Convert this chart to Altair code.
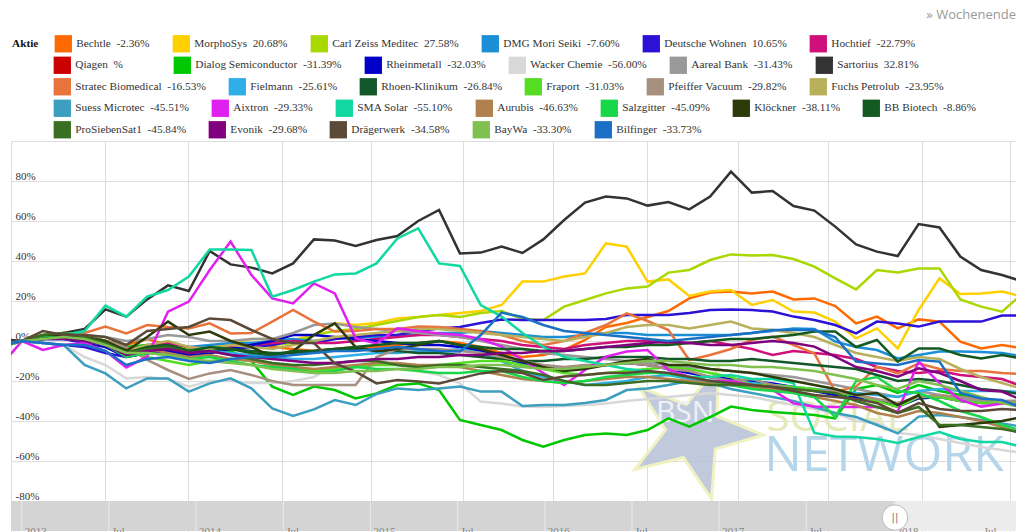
import altair as alt
import pandas as pd

# ---------------- legend / series definitions ----------------
names = ["Bechtle", "MorphoSys", "Carl Zeiss Meditec", "DMG Mori Seiki", "Deutsche Wohnen", "Hochtief",
         "Qiagen", "Dialog Semiconductor", "Rheinmetall", "Wacker Chemie", "Aareal Bank", "Sartorius",
         "Stratec Biomedical", "Fielmann", "Rhoen-Klinikum", "Fraport", "Pfeiffer Vacuum", "Fuchs Petrolub",
         "Suess Microtec", "Aixtron", "SMA Solar", "Aurubis", "Salzgitter", "Klöckner", "BB Biotech",
         "ProSiebenSat1", "Evonik", "Drägerwerk", "BayWa", "Bilfinger"]
changes = ["-2.36%", "20.68%", "27.58%", "-7.60%", "10.65%", "-22.79%",
           "%" + "\u00a0" * 10 + "\u200b", "-31.39%", "-32.03%", "-56.00%", "-31.43%", "32.81%",
           "-16.53%", "-25.61%", "-26.84%", "-31.03%", "-29.82%", "-23.95%",
           "-45.51%", "-29.33%", "-55.10%", "-46.63%", "-45.09%", "-38.11%", "-8.86%",
           "-45.84%", "-29.68%", "-34.58%", "-33.30%", "-33.73%"]
colors = ["#ff6a00", "#ffd000", "#a8d800", "#1a8fd6", "#2c12d6", "#d0107a",
          "#cc0000", "#00c800", "#0000c8", "#d8d8d8", "#999999", "#333333",
          "#e8743c", "#30aee8", "#13582a", "#55dd22", "#a89080", "#b8b05a",
          "#3d9fc0", "#e020f0", "#10d8a0", "#b0804e", "#18d84a", "#2d3a0a", "#125a20",
          "#3a6e22", "#800080", "#5c4a38", "#80c050", "#1a70c4"]
legend_rows = [(0, 6), (6, 12), (12, 18), (18, 25), (25, 30)]

# period index of each observation (-1 lies just left of the visible range)
periods = list(range(-1, 49))

# ---------------- series values in % ----------------
bechtle = [-3, 0, 1, 3, 2, 0, -2, 1, -2, -3, -4, -2, -1, -3, -4, -5, -4, -3, -3, -2, -1, 0, -1, -3, -6, -8, -7, -4.5, 0.5, 7, 9, 12, 15, 21.3, 24.2, 24.7, 23.8, 24.7, 20.8, 21.3, 17.5, 8.8, 12.2, 6.3, 10.8, 9.7, -0.3, -3.7, -2, -3.7]
morphosys = [-2, 0, 1, 2, 1, 0, -3, -3, -4, -5, -3, -1, 1, 1, 0.5, 3, 8.8, 8, 9, 11.3, 12, 13, 14, 15, 18, 29.7, 29.7, 32.2, 33.8, 48.8, 47.2, 29.7, 30.8, 22.5, 24.7, 25.5, 18, 20.5, 14.7, 14.2, 9.7, 1.3, 6.3, -3.7, 15.5, 31.3, 23.5, 23.8, 24.7, 22.2]
carl_zeiss = [-2, 0, 2, 3, 2, -1, -6, -3, -2, -4, -5, -3, -3, -2, -1, 3, 5, 6, 8, 10, 12, 13, 12, 14, 15, 11, 10.5, 17.2, 20.5, 23.8, 26.3, 27.2, 34.2, 35.5, 40.5, 43.3, 42.7, 43, 41, 37.2, 31.3, 25.8, 35.5, 34.3, 36.3, 36.3, 20.8, 17.2, 14.7, 23.8]
dmg_mori = [-2, 0, 1, 2, 1, -1, -4, -2, -1, -3, -2, -1, -1, 0, 1, 0, 1, 2, 2, 3, 3, 4, 4, 5, 4, 3, 2, 2, 3, 4, 4, 3, 3, 3, 3, 3, 4, 5, 6.3, 6, -0.3, -3, -4.5, -8.7, -7, -5.3, -5.3, -5.5, -6, -7.6]
deutsche_wohnen = [-3, 0, -1, -2, -3, -6, -8, -6, -5, -6, -6, -4, -3, -2, 0, -1, 1, 2, 3, 3, 5, 6.3, 7, 9, 10.8, 10.5, 10.5, 10.5, 10.5, 11, 13, 13, 13, 14, 15.5, 15.8, 15.5, 14.7, 12.2, 10.5, 8, 3.8, 9.7, 8.8, 7.2, 9.7, 9.7, 9.7, 12.7, 12.7]
hochtief = [-2, 0, 1, 2, 1, -2, -5, -3, -1, -3, -4, -3, -2, -1, 0, -1, -1, 0, 1, 2, 3, 3, 2, 1, 0, -2, -3, -4, -2, -1, 0, 0, -1, -1, 0, -2, -4, -7, -5, -6, -7, -9, -13, -15, -16, -15, -17, -18, -19, -22.8]
qiagen = []
dialog = [-2, 0, 2, 3, 3, 0, -3, -2, -3, -5, -4, -5, -10, -22.8, -27, -22.8, -24.5, -28.7, -26.2, -22, -21.2, -24.5, -39.5, -42, -44.5, -49.5, -52.8, -49.5, -47, -46.2, -47, -44.5, -38.7, -42.8, -38, -32.8, -34.5, -35.5, -36.2, -37, -38.7, -24, -22, -26, -22, -25, -27, -29, -30, -31.4]
rheinmetall = [-2, 0, 1, 1, -1, -3, -8, -6, -5, -7, -6, -4, -2, 0, 3, 3, 2, 1, 0, -1, -2, -2, -3, -5, -8, -11, -13.7, -14, -13, -12, -11, -12, -14, -16, -18, -19, -20, -21.2, -23, -25, -27, -28, -29.5, -32.8, -28.7, -28, -30, -31, -31, -32]
wacker = [-3, 0, -1, -2, -8, -12, -18.7, -18, -19, -22.8, -20, -20, -21, -21, -20, -18, -12, -10, -9, -12, -15, -17, -21.2, -30.3, -31.2, -32.8, -33, -32.5, -32, -31.2, -30, -29, -28, -27, -26, -27, -28, -30, -32, -34, -36, -40, -41, -46, -47, -49, -51, -53, -54.5, -56]
aareal = [-1, 0, 2, 4, 3, 2, 0, 1, 3, 2, 0, 0, 1, 1, 4, 8, 8.8, 7, 6, 5, 4, 3, 2, 0, -2, -4, -6, -7, -8, -9, -10, -11, -12, -13, -14, -15, -16, -17, -18, -20, -22, -24, -26, -28, -25, -27, -29, -30, -31, -31.4]
sartorius = [1, 0, 2, 4, 6, 15.8, 12.2, 20.8, 27.8, 25, 45, 38.3, 36.7, 33.8, 38.8, 50.8, 50.2, 47.5, 50.5, 52.5, 60, 65.5, 43.8, 44.2, 47.2, 44, 50.8, 60.5, 69.2, 72.2, 71.3, 67.7, 69.5, 65.8, 72.2, 84.7, 74.2, 75, 67.5, 65.2, 57.2, 48.3, 44.7, 42.5, 58.5, 56.8, 42.2, 35.5, 33, 29.7]
stratec = [-2, 0, 2, 3, 4, 7.2, 3.8, 8, 7, 6.3, 8.8, 3.8, 4, 9.7, 15.5, 9.7, 4.7, 5, 6, 6, 7.2, 7, 6, 5, 3, 0, -2, 0, 4, 8, 13.8, 10, 5.5, -9.5, -7, -4, 0.5, 2.2, -2, -6.2, -25.3, -22.8, -12.8, -16.2, -11.2, -14, -15, -15, -16, -16.5]
fielmann = [-2, 0, 1, 1, 0, -2, -6, -4, -3, -6, -5, -6, -7, -8, -9, -9, -8, -7, -6, -6, -5, -5, -4, -6, -10, -15, -18, -20, -22, -21, -20, -18, -17, -19, -20, -20, -21, -22, -23, -24, -25, -26, -27, -28, -25, -24, -25, -25, -25, -25.6]
rhoen = [-2, 0, 2, 3, 2, 0, -4, -3, -2, -5, -4, -4, -5, -6, -6, -5, -4, -4, -5, -5, -6, -6, -7, -8, -9, -10, -10, -9, -9, -8, -8, -8, -9, -9, -10, -10, -9, -10, -11, -12, -13, -14, -17, -20, -19, -20, -22, -24, -25, -26.8]
fraport = [-3, 0, 3, 4, 3, 0, -5, -8, -10, -12, -10, -9, -10, -11, -13, -15, -14, -13, -12, -12, -13, -12, -11, -10, -10, -12, -14, -16, -17, -16, -15, -14, -13, -14, -16, -18, -22, -22, -23, -24, -26, -27, -30, -33, -28, -28, -30, -31, -31, -31]
pfeiffer = [-2, 0, 2, 4, 3, 0, -3, -9.5, -14.5, -19, -16.2, -14.5, -17, -20, -22, -22, -22, -22, -8, -4, -4, -4, -5, -6, -8, -10, -12, -13, -12, -12, -11, -12, -14, -15, -18, -20, -19, -22, -24, -25, -25, -27, -29, -31, -28, -27, -28, -29, -30, -29.8]
fuchs = [-3, 0, 2, 3, 2, -1, -5, -2, 0, -3, -4, -2, -3, -4, -2, 0, 2, 3, 4, 5, 6, 6, 5, 4, 3, 2, 1, 0, 2, 4, 7, 8, 8, 6.3, 8, 9.7, 6.3, 5.5, 4, 2, -2, -6, -8, -10, -8, -9, -14, -18, -21, -24]
suess = [-2, 0, -1, -2, -12, -16.2, -23.7, -18.7, -18.7, -25.3, -21.2, -18.7, -23.7, -33.7, -37.5, -34.2, -29.5, -32, -26.5, -23.7, -24.5, -23.7, -22.8, -25.3, -25.3, -32.5, -32, -32, -31, -29.5, -24.5, -23.7, -22, -20, -21, -24, -26, -28, -30, -33, -36, -38, -42, -46.2, -37.8, -37, -38, -39.5, -41.2, -43]
aixtron = [-12, 0, -4.5, -2, -1, -5, -13.2, -7.8, 14.7, 19.7, 35.5, 49.7, 33, 21.3, 18.8, 28.8, 23.8, 1.3, -1.2, 6.3, 5, 3.8, 3, 1, -2.8, -9.5, -16, -22, -14.5, -7.8, -5.3, -4.5, -14.5, -17.8, -20, -20, -22, -24.5, -31.2, -32.8, -33, -33, -33, -35.3, -10.3, -21.2, -29.5, -32.8, -31.2, -32]
sma_solar = [-2, 0, 1, 3, 5, 17.7, 12.2, 22.2, 25.5, 32.2, 45.8, 45.8, 45.5, 22.2, 25.5, 29.7, 33.3, 33.8, 38.8, 51.3, 56.3, 38.8, 37.5, 18, 12.2, 4, -3, -8, -10, -12, -14, -15, -17, -18, -18, -17, -19, -19, -21, -46, -47.8, -48, -49, -51, -48, -45.5, -49, -50.5, -50.5, -53]
aurubis = [-2, 0, 2, 3, 2, -1, -5, -4, -6, -8, -7, -9, -10, -12, -13, -14, -13, -12, -11, -11, -12, -12, -13, -15, -17, -19, -20, -21, -20, -19, -18, -18, -19, -20, -21, -22, -23, -24, -26, -28, -30, -32, -36, -38, -35, -36, -38, -40, -43, -46.6]
salzgitter = [-3, 0, 2, 2, 1, -2, -8, -6, -7, -9, -8, -10, -12, -13, -14, -16, -15, -13, -14, -14, -15, -16, -16, -15, -15, -18, -20, -21, -20, -18, -17, -16, -16, -18, -20, -22, -24, -25, -26, -28, -38, -20, -18, -25, -26, -30, -35, -38, -42, -45]
kloeckner = [-2, 0, 3, 3, 2, 0, -5, 2, 9.7, 3, 4.7, 0, -3, -8, -5, 3, 8.8, -3, -5, -4, -2, 0, -2, -4, -7, -10, -13, -15, -14, -12, -10, -9, -12, -12, -14, -15, -16, -18, -20, -22, -24, -27, -26, -32, -27, -43, -42, -41, -40, -38]
bb_biotech = [-2, 0, 1, 2, 1, -1, -6, -3, -2, -5, -3, -4, -6, -7, -5, -5, -4, -3, -2, -1, -1, 0, -2, -3, -4, -4, -5, -5, -4, -3, -3, -2, -2, -1, 0, 1, 1, 2, 3, 4.7, 4.7, -3, 0.5, -10.3, -3.7, -3.7, -7, -8.7, -7, -8.9]
prosieben = [-2, 0, 3, 4, 2, -1, -6, -4, -3, -6, -5, -7, -9, -11, -12, -12, -11, -10, -10, -12, -13, -12, -12, -13, -14, -15, -17, -20, -22, -22, -21, -20, -20, -21, -22, -22, -22, -23, -24, -25, -26, -30, -33, -36, -33, -42, -42, -43, -44, -45.8]
evonik = [-2, 0, 1, 1, 0, -2, -7, -5, -4, -6, -5, -7, -8, -9, -10, -11, -11, -10, -9, -9, -8, -8, -7, -7, -6, -6, -5, -5, -4, -3, -2, -1, -0.3, -1, -2, -2, -1, 0, -1, -2.8, -7.8, -13, -15, -17.8, -13.7, -16, -20, -24.5, -25.3, -29.7]
draeger = [-1, 0, 5, 3, 3, 2, -2, 5, 6, 7, 11.3, 10.5, 5.5, 1, -1, -1, -11.2, -15.3, -21.2, -19.5, -20.3, -21.2, -18.7, -16.2, -15, -16, -19.5, -17.8, -17, -16, -16, -15, -16, -18, -20, -21, -22, -23, -25, -27, -28, -29, -31, -36, -31, -34, -35, -35, -34, -34.6]
baywa = [-2, 0, 1, 2, 1, -2, -6, -6, -7, -9, -10, -11, -12, -14, -15, -16, -16, -15, -15, -14, -14, -13, -13, -12, -12, -13, -14, -14, -13, -12, -11, -10, -10, -11, -12, -12, -13, -13, -14, -15, -17, -19, -22, -24, -20, -22, -25, -28, -31, -33.3]
bilfinger = [-2, 0, -1, -2, -2, -5, -12, -9, -8, -10, -11, -9, -8, -8, -7, -6, -5, -5, -4, -3, -4, -5, -5.3, 3, 14.2, 12, 8, 5, 4, 3, 2, 1, 0, 1, 2, 3, 4, 5.5, 5.5, 5.5, 2, -10.3, -11.2, -12, -9.5, -10.3, -26, -28.7, -29.5, -33.7]

series_values = [bechtle, morphosys, carl_zeiss, dmg_mori, deutsche_wohnen, hochtief,
                 qiagen, dialog, rheinmetall, wacker, aareal, sartorius,
                 stratec, fielmann, rhoen, fraport, pfeiffer, fuchs,
                 suess, aixtron, sma_solar, aurubis, salzgitter, kloeckner, bb_biotech,
                 prosieben, evonik, draeger, baywa, bilfinger]

labels = [f"{n}\u00a0 {c}" for n, c in zip(names, changes)]

rows = []
for lab, vals in zip(labels, series_values):
    for k, v in zip(periods, vals):
        rows.append({"label": lab, "k": k, "v": v})
df = pd.DataFrame(rows)

# x grid positions (period units) and navigator ticks (months since Jan 2013)
grid_k = [-0.53, 3.98, 7.96, 12.47, 16.74, 21.15, 25.47, 29.98, 34.34, 38.66, 43.17, 47.39]
y_ticks = [-80, -60, -40, -20, 0, 20, 40, 60, 80, 100]
nav_months = [0, 6, 12, 18, 24, 30, 36, 42, 48, 54, 60, 66]
nav_labels = ["2013", "Jul", "2014", "Jul", "2015", "Jul", "2016", "Jul", "2017", "Jul", "2018", "Jul"]
nav_selected_end = 60.1

K_DOM = [-0.53, 47.67]
M_DOM = [-0.74, 68.43]
Y_DOM = [-95, 100]
SERIF = "Liberation Serif"

Y_AXIS = alt.Axis(values=y_ticks, grid=True, ticks=False, domain=False, title=None,
                  gridColor="#dddddd", gridWidth=1,
                  labelExpr="datum.value == 100 ? '' : datum.value + '%'",
                  labelAlign="left", labelPadding=-4, labelBaseline="alphabetic",
                  labelOffset=-2, labelFont=SERIF, labelFontSize=11, labelColor="#333333",
                  labelFlush=False, labelOverlap=False)

xk = lambda axis=None: alt.X("k:Q", scale=alt.Scale(domain=K_DOM, nice=False, zero=False), axis=axis)
xm = alt.X("m:Q", scale=alt.Scale(domain=M_DOM, nice=False, zero=False), axis=None)
yv = lambda f="v": alt.Y(f"{f}:Q", scale=alt.Scale(domain=Y_DOM, nice=False, zero=False), axis=Y_AXIS)

# ---------------- watermark ----------------
star_path = ("M0,1L-0.235,0.324L-0.951,0.309L-0.38,-0.124L-0.588,-0.809L0,-0.4L0.588,-0.809"
             "L0.38,-0.124L0.951,0.309L0.235,0.324Z")
wm_star = alt.Chart(pd.DataFrame({"k": [32.2], "v": [-45.2]})).mark_point(
    shape=star_path, filled=True, fill="#b7c1d6", stroke="#eef0b8", strokeWidth=3,
    size=19600, opacity=0.85, angle=345
).encode(x=xk(), y=yv())

wm_text = pd.DataFrame({
    "k": [35.7, 35.6, 30.4],
    "v": [-45.0, -65.2, -40.6],
    "t": ["SOCIAL", "NETWORK", "BSN"],
})
wm_social = alt.Chart(wm_text.iloc[[0]]).mark_text(
    align="left", baseline="alphabetic", font="Open Sans", fontSize=42, color="#e5eab8"
).encode(x=xk(), y=yv(), text="t:N")
wm_network = alt.Chart(wm_text.iloc[[1]]).mark_text(
    align="left", baseline="alphabetic", font="Open Sans", fontSize=50, color="#b5d5eb"
).encode(x=xk(), y=yv(), text="t:N")
wm_bsn = alt.Chart(wm_text.iloc[[2]]).mark_text(
    align="left", baseline="alphabetic", font="Open Sans", fontSize=30, color="#eef2f7"
).encode(x=xk(), y=yv(), text="t:N")

# ---------------- legend carriers: one legend per legend row (flowing entries) ----------------
ROW_TOP0 = -106.4      # top of first legend row, relative to the plot's top edge
ROW_STEP = 21.5
legend_layers = []
for r, (a, b) in enumerate(legend_rows):
    sub = pd.DataFrame({"label": labels[a:b], "k": [-1] * (b - a), "v": [0] * (b - a)})
    first = r == 0
    leg = alt.Legend(
        title="Aktie" if first else None, orient="none", direction="horizontal",
        legendX=1 if first else 42.3, legendY=ROW_TOP0 + r * ROW_STEP,
        symbolType="square", symbolSize=300, symbolStrokeWidth=0, symbolOpacity=1,
        labelFont=SERIF, labelFontSize=11.3, labelColor="#333333", labelOffset=4,
        labelLimit=400, columnPadding=22, padding=0,
        titleOrient="left", titleFont=SERIF, titleFontSize=11.3, titleFontWeight="bold",
        titleColor="#111111", titlePadding=15.3, titleAnchor="start",
        titleBaseline="line-top", titleLineHeight=17.3)
    legend_layers.append(
        alt.Chart(sub).mark_square(size=1, filled=True, clip=True, opacity=1).encode(
            x=xk(), y=yv(),
            color=alt.Color("label:N", scale=alt.Scale(domain=labels[a:b], range=colors[a:b]),
                            legend=leg)))

# ---------------- lines ----------------
lines = alt.Chart(df).mark_line(strokeWidth=2.5, clip=True).encode(
    x=xk(alt.Axis(values=grid_k, grid=True, labels=False, ticks=False, domain=False,
                  title=None, gridColor="#dddddd", gridWidth=1)),
    y=yv(),
    color=alt.Color("label:N", scale=alt.Scale(domain=labels, range=colors), legend=None),
)

# ---------------- navigator ----------------
nav_band = pd.DataFrame({"m": [M_DOM[0]], "m2": [nav_selected_end], "v": [-80], "v2": [-95]})
nav_rest = pd.DataFrame({"m": [nav_selected_end], "m2": [M_DOM[1]], "v": [-80], "v2": [-95]})
nav_dark = alt.Chart(nav_band).mark_rect(color="#d4d4d4").encode(
    x=xm, x2="m2:Q", y=yv(), y2="v2:Q")
nav_light = alt.Chart(nav_rest).mark_rect(color="#ececec").encode(
    x=xm, x2="m2:Q", y=yv(), y2="v2:Q")
nav_tick_df = pd.DataFrame({"m": nav_months, "v": [-80] * len(nav_months), "v2": [-95] * len(nav_months),
                            "t": nav_labels})
nav_ticks = alt.Chart(nav_tick_df).mark_rule(color="#e9e9e9", strokeWidth=1).encode(
    x=xm, y=yv(), y2="v2:Q")
nav_text = alt.Chart(nav_tick_df.assign(v=-92.6)).mark_text(
    align="left", baseline="top", dx=3, font=SERIF, fontSize=11, color="#888888"
).encode(x=xm, y=yv(), text="t:N")
handle_df = pd.DataFrame({"m": [nav_selected_end], "v": [-88.3], "t": ["||"]})
nav_handle = alt.Chart(handle_df).mark_point(
    shape="circle", filled=True, fill="#ffffff", stroke="#bbbbbb", strokeWidth=1,
    size=650, opacity=1).encode(x=xm, y=yv())
nav_handle_text = alt.Chart(handle_df).mark_text(
    font="DejaVu Sans", fontSize=10, color="#777777", baseline="middle", align="center"
).encode(x=xm, y=yv(), text="t:N")

chart = alt.layer(
    wm_star, wm_social, wm_network, wm_bsn, *legend_layers, lines,
    nav_dark, nav_light, nav_ticks, nav_text, nav_handle, nav_handle_text
).resolve_scale(x="independent", color="independent").properties(
    width=1005, height=390,
    padding={"left": 3, "top": 0, "right": 0, "bottom": 0},
    title=alt.TitleParams("» Wochenende", anchor="end", font="Open Sans", fontSize=13,
                          color="#999999", fontWeight="normal", offset=13),
).configure_view(stroke=None)

chart.save("out.html", embed_options={"renderer": "svg", "actions": False})
